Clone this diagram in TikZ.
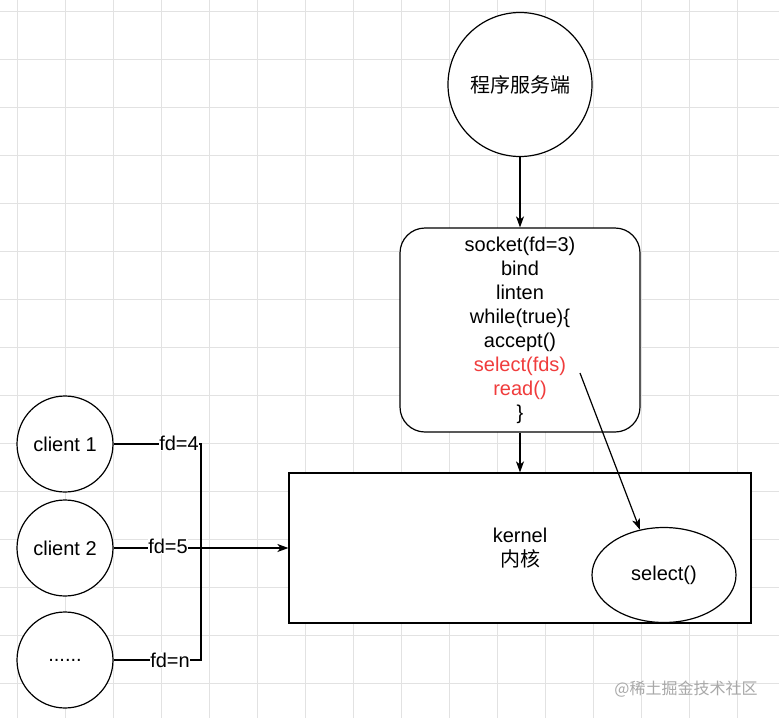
\documentclass[tikz,border=0pt]{standalone}
\usepackage{fontspec}
\setmainfont{Liberation Sans}
\newfontfamily\cjk{Noto Sans CJK SC}
\usetikzlibrary{arrows.meta,shapes.geometric}
\definecolor{gridc}{HTML}{E2E2E2}
\definecolor{redt}{HTML}{F03C3C}
\definecolor{wmark}{HTML}{A8A8A8}
\begin{document}
\begin{tikzpicture}[x=1pt,y=-1pt,
  every node/.style={font=\fontsize{20}{24}\selectfont},
  lin/.style={line width=1.2pt, draw=black},
  arr/.style={lin, -{Stealth[length=11pt,width=8pt,inset=3pt]}},
  shapebox/.style={draw=black, line width=1.2pt, fill=white, align=center, inner sep=0pt},
  lbl/.style={fill=white, inner sep=0.5pt}]
\fill[white] (0,0) rectangle (779,718);
\useasboundingbox (0,0) rectangle (779,718);
\foreach \x in {17,65,...,761} \draw[gridc, line width=1pt] (\x,0) -- (\x,718);
\foreach \y in {11.5,59.5,...,683.5} \draw[gridc, line width=1pt] (0,\y) -- (779,\y);

\node[shapebox, circle, minimum size=144pt] (srv) at (520,84.5) {\cjk 程序服务端};
\node[shapebox, rounded corners=25pt, minimum width=240pt, minimum height=204pt] (code) at (520,330)
  {socket(fd=3)\\bind\\linten\\while(true)\{\\accept()\\\textcolor{redt}{select(fds)}\\\textcolor{redt}{read()}\\\}};
\node[shapebox, minimum width=462pt, minimum height=150pt] (kern) at (520,548) {kernel\\{\cjk 内核}};
\node[shapebox, ellipse, minimum width=144pt, minimum height=95pt] (sel) at (664,575) {select()};

\node[shapebox, circle, minimum size=96pt] (c1) at (65,444) {client 1};
\node[shapebox, circle, minimum size=96pt] (c2) at (65,548) {client 2};
\node[shapebox, circle, minimum size=96pt] (c3) at (65,660) {......};

\coordinate (j1) at (201,444);
\coordinate (jm) at (201,548);
\coordinate (jn) at (201,660);
\coordinate (sfrom) at (580,373);

\draw[arr] (srv) -- (code);
\draw[arr] (code) -- (kern);
\draw[arr] (sfrom) -- (sel.118);
\draw[lin] (c1.east) -- (j1) -- (jm);
\draw[lin] (c3.east) -- (jn) -- (jm);
\draw[arr] (c2.east) -- (kern.west);

\node[lbl] (l4) at (179,443) {fd=4};
\node[lbl] (l5) at (168,546) {fd=5};
\node[lbl] (ln) at (170,660) {fd=n};

\node[text=wmark, font=\cjk\fontsize{16}{18}\selectfont] (wm) at (686,689) {@稀土掘金技术社区};
\end{tikzpicture}
\end{document}
